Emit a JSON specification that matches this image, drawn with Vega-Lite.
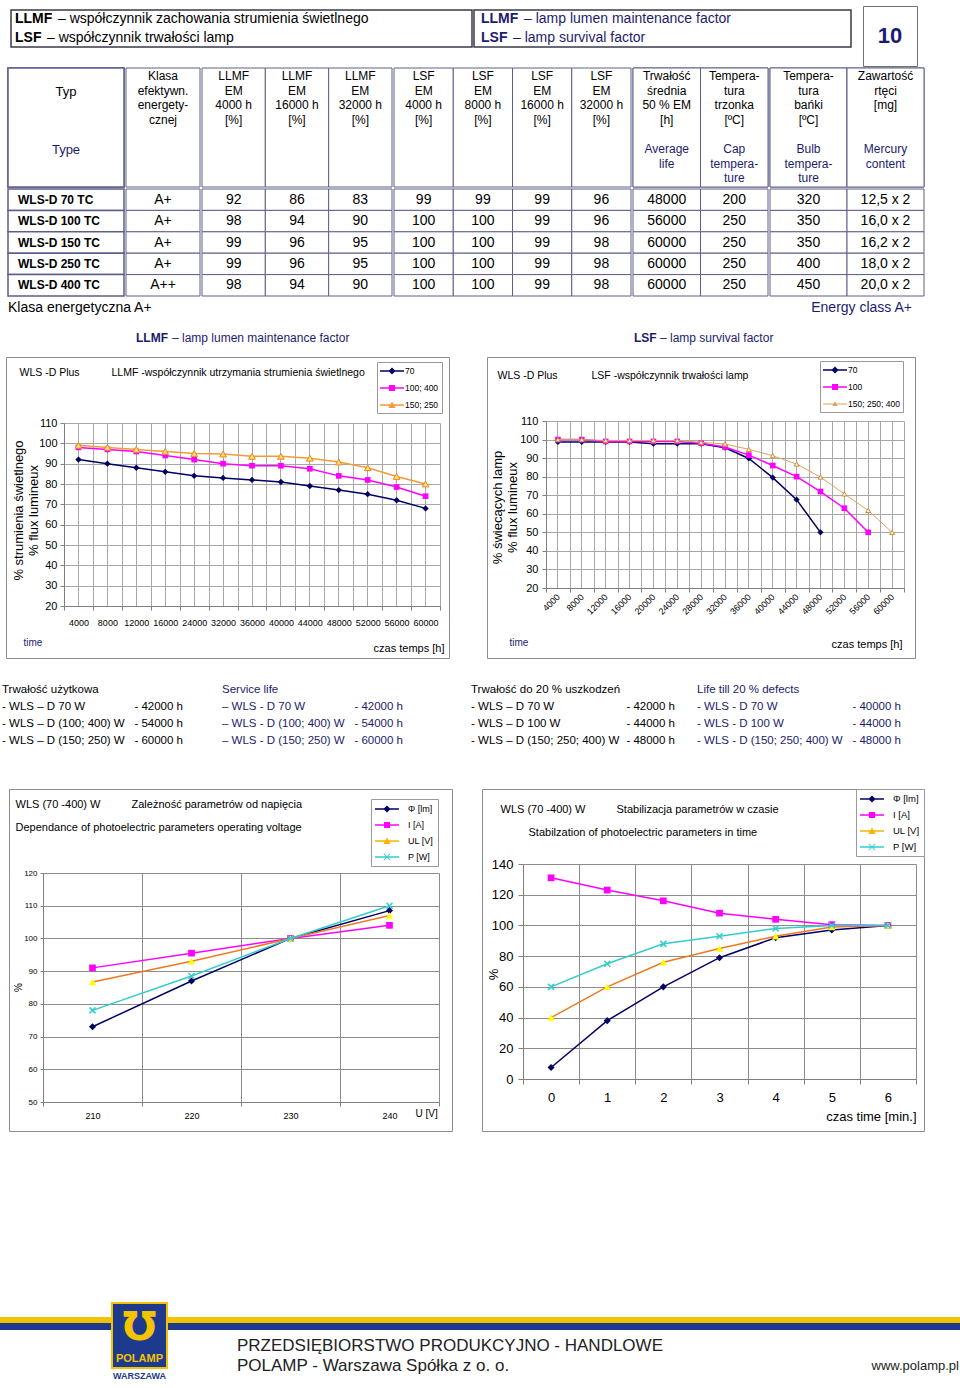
{
"$schema":"https://vega.github.io/schema/vega-lite/v6.json",
"padding":0,
"background":"#ffffff",
"spacing":0,
"resolve":{"scale":{"fill":"independent","shape":"independent"},"legend":{"fill":"independent","shape":"independent"}},
"config":{
 "view":{"stroke":null},
 "font":"Liberation Sans",
 "text":{"font":"Liberation Sans","fontSize":12,"color":"#000000"},
 "axis":{"labelFont":"Liberation Sans","titleFont":"Liberation Sans","titleFontWeight":"normal","labelColor":"#000000","titleColor":"#000000","domainColor":"#7f7f7f","tickColor":"#7f7f7f","gridColor":"#a8a8a8","gridWidth":1},
 "legend":{"labelFont":"Liberation Sans","labelColor":"#000000"}
},
"datasets":{
 "hdr":[
  {"lang":"pl","line":1,"k":"b","text":"LLMF"},
  {"lang":"pl","line":1,"k":"n","text":"– współczynnik zachowania strumienia świetlnego"},
  {"lang":"pl","line":2,"k":"b","text":"LSF"},
  {"lang":"pl","line":2,"k":"n","text":"– współczynnik trwałości lamp"},
  {"lang":"en","line":1,"k":"b","text":"LLMF"},
  {"lang":"en","line":1,"k":"n","text":"– lamp lumen maintenance factor"},
  {"lang":"en","line":2,"k":"b","text":"LSF"},
  {"lang":"en","line":2,"k":"n","text":"– lamp survival factor"}
 ],
 "page":[{"text":"10"}],
 "thead":[
  {"col":"typ","part":"pl","text":"\nTyp"},
  {"col":"typ","part":"en","text":"Type"},
  {"col":"klasa","part":"pl","text":"Klasa\nefektywn.\nenergety-\ncznej"},
  {"col":"llmf4000","part":"pl","text":"LLMF\nEM\n4000 h\n\n[%]"},
  {"col":"llmf16000","part":"pl","text":"LLMF\nEM\n16000  h\n\n[%]"},
  {"col":"llmf32000","part":"pl","text":"LLMF\nEM\n32000  h\n\n[%]"},
  {"col":"lsf4000","part":"pl","text":"LSF\nEM\n4000 h\n\n[%]"},
  {"col":"lsf8000","part":"pl","text":"LSF\nEM\n8000 h\n\n[%]"},
  {"col":"lsf16000","part":"pl","text":"LSF\nEM\n16000 h\n\n[%]"},
  {"col":"lsf32000","part":"pl","text":"LSF\nEM\n32000 h\n\n[%]"},
  {"col":"life","part":"pl","text":"Trwałość\nśrednia\n50 % EM\n\n[h]"},
  {"col":"life","part":"en","text":"Average\nlife"},
  {"col":"tcap","part":"pl","text":"Tempera-\ntura\ntrzonka\n\n[ºC]"},
  {"col":"tcap","part":"en","text":"Cap\ntempera-\nture"},
  {"col":"tbulb","part":"pl","text":"Tempera-\ntura\nbańki\n\n[ºC]"},
  {"col":"tbulb","part":"en","text":"Bulb\ntempera-\nture"},
  {"col":"hg","part":"pl","text":"Zawartość\nrtęci\n\n\n[mg]"},
  {"col":"hg","part":"en","text":"Mercury\ncontent"}
 ],
 "lamps":[
  {"typ":"WLS-D 70 TC","klasa":"A+","llmf4000":92,"llmf16000":86,"llmf32000":83,"lsf4000":99,"lsf8000":99,"lsf16000":99,"lsf32000":96,"life":48000,"tcap":200,"tbulb":320,"hg":"12,5 x 2"},
  {"typ":"WLS-D 100 TC","klasa":"A+","llmf4000":98,"llmf16000":94,"llmf32000":90,"lsf4000":100,"lsf8000":100,"lsf16000":99,"lsf32000":96,"life":56000,"tcap":250,"tbulb":350,"hg":"16,0 x 2"},
  {"typ":"WLS-D 150 TC","klasa":"A+","llmf4000":99,"llmf16000":96,"llmf32000":95,"lsf4000":100,"lsf8000":100,"lsf16000":99,"lsf32000":98,"life":60000,"tcap":250,"tbulb":350,"hg":"16,2 x 2"},
  {"typ":"WLS-D 250 TC","klasa":"A+","llmf4000":99,"llmf16000":96,"llmf32000":95,"lsf4000":100,"lsf8000":100,"lsf16000":99,"lsf32000":98,"life":60000,"tcap":250,"tbulb":400,"hg":"18,0 x 2"},
  {"typ":"WLS-D 400 TC","klasa":"A++","llmf4000":98,"llmf16000":94,"llmf32000":90,"lsf4000":100,"lsf8000":100,"lsf16000":99,"lsf32000":98,"life":60000,"tcap":250,"tbulb":450,"hg":"20,0 x 2"}
 ],
 "cls":[{"side":"pl","text":"Klasa energetyczna A+"},{"side":"en","text":"Energy class A+"}],
 "caps":[
  {"id":"llmf","k":"b","text":"LLMF"},{"id":"llmf","k":"n","text":"– lamp lumen maintenance factor"},
  {"id":"lsf","k":"b","text":"LSF"},{"id":"lsf","k":"n","text":"– lamp survival factor"}
 ],
 "llmf":[
  {"t":4000,"s":"70","v":92},{"t":8000,"s":"70","v":90},{"t":12000,"s":"70","v":88},{"t":16000,"s":"70","v":86},{"t":24000,"s":"70","v":84},{"t":32000,"s":"70","v":83},{"t":36000,"s":"70","v":82},{"t":40000,"s":"70","v":81},{"t":44000,"s":"70","v":79},{"t":48000,"s":"70","v":77},{"t":52000,"s":"70","v":75},{"t":56000,"s":"70","v":72},{"t":60000,"s":"70","v":68},
  {"t":4000,"s":"100; 400","v":98},{"t":8000,"s":"100; 400","v":97},{"t":12000,"s":"100; 400","v":96},{"t":16000,"s":"100; 400","v":94},{"t":24000,"s":"100; 400","v":92},{"t":32000,"s":"100; 400","v":90},{"t":36000,"s":"100; 400","v":89},{"t":40000,"s":"100; 400","v":89},{"t":44000,"s":"100; 400","v":87.5},{"t":48000,"s":"100; 400","v":84},{"t":52000,"s":"100; 400","v":82},{"t":56000,"s":"100; 400","v":78.5},{"t":60000,"s":"100; 400","v":74},
  {"t":4000,"s":"150; 250","v":99},{"t":8000,"s":"150; 250","v":98},{"t":12000,"s":"150; 250","v":97},{"t":16000,"s":"150; 250","v":96},{"t":24000,"s":"150; 250","v":95},{"t":32000,"s":"150; 250","v":94.7},{"t":36000,"s":"150; 250","v":93.6},{"t":40000,"s":"150; 250","v":93.6},{"t":44000,"s":"150; 250","v":92.7},{"t":48000,"s":"150; 250","v":90.8},{"t":52000,"s":"150; 250","v":88},{"t":56000,"s":"150; 250","v":83.7},{"t":60000,"s":"150; 250","v":80}
 ],
 "lsf":[
  {"t":4000,"s":"70","v":98.7},{"t":8000,"s":"70","v":98.7},{"t":12000,"s":"70","v":98.7},{"t":16000,"s":"70","v":98.7},{"t":20000,"s":"70","v":97.8},{"t":24000,"s":"70","v":97.8},{"t":28000,"s":"70","v":97.8},{"t":32000,"s":"70","v":95.6},{"t":36000,"s":"70","v":89.8},{"t":40000,"s":"70","v":79.5},{"t":44000,"s":"70","v":67.6},{"t":48000,"s":"70","v":50},
  {"t":4000,"s":"100","v":100},{"t":8000,"s":"100","v":100},{"t":12000,"s":"100","v":99},{"t":16000,"s":"100","v":99},{"t":20000,"s":"100","v":99},{"t":24000,"s":"100","v":99},{"t":28000,"s":"100","v":98},{"t":32000,"s":"100","v":96},{"t":36000,"s":"100","v":91.6},{"t":40000,"s":"100","v":86},{"t":44000,"s":"100","v":80},{"t":48000,"s":"100","v":72},{"t":52000,"s":"100","v":63},{"t":56000,"s":"100","v":50},
  {"t":4000,"s":"150; 250; 400","v":100},{"t":8000,"s":"150; 250; 400","v":100},{"t":12000,"s":"150; 250; 400","v":99.5},{"t":16000,"s":"150; 250; 400","v":99.5},{"t":20000,"s":"150; 250; 400","v":99.5},{"t":24000,"s":"150; 250; 400","v":99.5},{"t":28000,"s":"150; 250; 400","v":98.5},{"t":32000,"s":"150; 250; 400","v":97.6},{"t":36000,"s":"150; 250; 400","v":94.7},{"t":40000,"s":"150; 250; 400","v":91.3},{"t":44000,"s":"150; 250; 400","v":86.8},{"t":48000,"s":"150; 250; 400","v":79.8},{"t":52000,"s":"150; 250; 400","v":70.7},{"t":56000,"s":"150; 250; 400","v":61.8},{"t":60000,"s":"150; 250; 400","v":50}
 ],
 "volt":[
  {"t":210,"s":"Φ [lm]","v":73},{"t":220,"s":"Φ [lm]","v":87},{"t":230,"s":"Φ [lm]","v":100},{"t":240,"s":"Φ [lm]","v":108.5},
  {"t":210,"s":"I [A]","v":91},{"t":220,"s":"I [A]","v":95.5},{"t":230,"s":"I [A]","v":100},{"t":240,"s":"I [A]","v":104},
  {"t":210,"s":"UL [V]","v":86.7},{"t":220,"s":"UL [V]","v":93},{"t":230,"s":"UL [V]","v":100},{"t":240,"s":"UL [V]","v":107},
  {"t":210,"s":"P [W]","v":78},{"t":220,"s":"P [W]","v":88.5},{"t":230,"s":"P [W]","v":100},{"t":240,"s":"P [W]","v":110}
 ],
 "stab":[
  {"t":0,"s":"Φ [lm]","v":7.5},{"t":1,"s":"Φ [lm]","v":38},{"t":2,"s":"Φ [lm]","v":60},{"t":3,"s":"Φ [lm]","v":79},{"t":4,"s":"Φ [lm]","v":92},{"t":5,"s":"Φ [lm]","v":97},{"t":6,"s":"Φ [lm]","v":100},
  {"t":0,"s":"I [A]","v":131},{"t":1,"s":"I [A]","v":123},{"t":2,"s":"I [A]","v":116},{"t":3,"s":"I [A]","v":108},{"t":4,"s":"I [A]","v":104},{"t":5,"s":"I [A]","v":100.5},{"t":6,"s":"I [A]","v":100},
  {"t":0,"s":"UL [V]","v":40},{"t":1,"s":"UL [V]","v":60},{"t":2,"s":"UL [V]","v":76},{"t":3,"s":"UL [V]","v":85},{"t":4,"s":"UL [V]","v":93},{"t":5,"s":"UL [V]","v":99},{"t":6,"s":"UL [V]","v":100},
  {"t":0,"s":"P [W]","v":60},{"t":1,"s":"P [W]","v":75},{"t":2,"s":"P [W]","v":88},{"t":3,"s":"P [W]","v":93},{"t":4,"s":"P [W]","v":98},{"t":5,"s":"P [W]","v":100},{"t":6,"s":"P [W]","v":100}
 ],
 "notes":[
  {"b":1,"line":0,"part":"l","text":"Trwałość użytkowa"},
  {"b":1,"line":1,"part":"l","text":"- WLS – D 70 W"},{"b":1,"line":1,"part":"v","text":"- 42000 h"},
  {"b":1,"line":2,"part":"l","text":"- WLS – D (100; 400) W"},{"b":1,"line":2,"part":"v","text":"- 54000 h"},
  {"b":1,"line":3,"part":"l","text":"- WLS – D (150; 250) W"},{"b":1,"line":3,"part":"v","text":"- 60000 h"},
  {"b":2,"line":0,"part":"l","text":"Service life"},
  {"b":2,"line":1,"part":"l","text":"– WLS - D 70 W"},{"b":2,"line":1,"part":"v","text":"- 42000 h"},
  {"b":2,"line":2,"part":"l","text":"– WLS - D (100; 400) W"},{"b":2,"line":2,"part":"v","text":"- 54000 h"},
  {"b":2,"line":3,"part":"l","text":"– WLS - D (150; 250) W"},{"b":2,"line":3,"part":"v","text":"- 60000 h"},
  {"b":3,"line":0,"part":"l","text":"Trwałość do 20 % uszkodzeń"},
  {"b":3,"line":1,"part":"l","text":"- WLS – D 70 W"},{"b":3,"line":1,"part":"v","text":"- 42000 h"},
  {"b":3,"line":2,"part":"l","text":"- WLS – D 100 W"},{"b":3,"line":2,"part":"v","text":"- 44000 h"},
  {"b":3,"line":3,"part":"l","text":"- WLS – D (150; 250; 400) W"},{"b":3,"line":3,"part":"v","text":"- 48000 h"},
  {"b":4,"line":0,"part":"l","text":"Life till 20 % defects"},
  {"b":4,"line":1,"part":"l","text":"- WLS - D 70 W"},{"b":4,"line":1,"part":"v","text":"- 40000 h"},
  {"b":4,"line":2,"part":"l","text":"- WLS - D 100 W"},{"b":4,"line":2,"part":"v","text":"- 44000 h"},
  {"b":4,"line":3,"part":"l","text":"- WLS - D (150; 250; 400) W"},{"b":4,"line":3,"part":"v","text":"- 48000 h"}
 ],
 "foot":[
  {"side":"l","line":1,"text":"PRZEDSIĘBIORSTWO PRODUKCYJNO - HANDLOWE"},
  {"side":"l","line":2,"text":"POLAMP - Warszawa Spółka z o. o."},
  {"side":"r","line":2,"text":"www.polamp.pl"}
 ],
 "logo":[{"part":"sym","text":"℧"},{"part":"name","text":"POLAMP"},{"part":"city","text":"WARSZAWA"}]
},
"vconcat":[
 {"hconcat":[
   {"width":10,"height":10,"data":{"values":[{}]},"mark":{"type":"rect","opacity":0}},
   {"vconcat":[
     {"width":838,"height":9,"data":{"values":[{}]},"mark":{"type":"rect","opacity":0}},
     {"hconcat":[
       {"width":461,"height":37,"view":{"stroke":"#3a3a4a","strokeWidth":1.5},
        "data":{"name":"hdr"},"transform":[{"filter":{"field":"lang","equal":"pl"}}],
        "encoding":{
          "x":{"datum":"c","type":"nominal","bandPosition":0,"scale":{"type":"band","paddingInner":0,"paddingOuter":0},"axis":null},
          "y":{"field":"line","type":"ordinal","bandPosition":0.5,"scale":{"type":"band","domain":[1,2],"paddingInner":0,"paddingOuter":0},"axis":null},
          "text":{"field":"text"}},
        "layer":[
          {"transform":[{"filter":{"field":"k","equal":"b"}}],"mark":{"type":"text","align":"left","dx":4,"fontSize":14,"fontWeight":"bold","color":"#000000"}},
          {"transform":[{"filter":"datum.k == 'n' && datum.line == 1"}],"mark":{"type":"text","align":"left","dx":47,"fontSize":14,"color":"#000000"}},
          {"transform":[{"filter":"datum.k == 'n' && datum.line == 2"}],"mark":{"type":"text","align":"left","dx":36,"fontSize":14,"color":"#000000"}}
        ]},
       {"width":377,"height":37,"view":{"stroke":"#3a3a4a","strokeWidth":1.5},
        "data":{"name":"hdr"},"transform":[{"filter":{"field":"lang","equal":"en"}}],
        "encoding":{
          "x":{"datum":"c","type":"nominal","bandPosition":0,"scale":{"type":"band","paddingInner":0,"paddingOuter":0},"axis":null},
          "y":{"field":"line","type":"ordinal","bandPosition":0.5,"scale":{"type":"band","domain":[1,2],"paddingInner":0,"paddingOuter":0},"axis":null},
          "text":{"field":"text"}},
        "layer":[
          {"transform":[{"filter":{"field":"k","equal":"b"}}],"mark":{"type":"text","align":"left","dx":7,"fontSize":14,"fontWeight":"bold","color":"#1c1c6e"}},
          {"transform":[{"filter":"datum.k == 'n' && datum.line == 1"}],"mark":{"type":"text","align":"left","dx":50,"fontSize":14,"color":"#1c1c6e"}},
          {"transform":[{"filter":"datum.k == 'n' && datum.line == 2"}],"mark":{"type":"text","align":"left","dx":39,"fontSize":14,"color":"#1c1c6e"}}
        ]}
     ],"spacing":0}
   ],"spacing":0},
   {"width":10,"height":10,"data":{"values":[{}]},"mark":{"type":"rect","opacity":0}},
   {"vconcat":[
     {"width":54,"height":5,"data":{"values":[{}]},"mark":{"type":"rect","opacity":0}},
     {"width":54,"height":60,"view":{"stroke":"#707070","strokeWidth":1},"data":{"name":"page"},
      "mark":{"type":"text","fontSize":22,"fontWeight":"bold","color":"#1c1c6e"},
      "encoding":{"text":{"field":"text"}}}
   ],"spacing":0}
 ],"spacing":0},
 {"hconcat":[
   {"width":7,"height":10,"data":{"values":[{}]},"mark":{"type":"rect","opacity":0}},
   {"vconcat":[
     {"width":116,"height":119,"data":{"name":"thead"},"transform":[{"filter":{"field":"col","equal":"typ"}}],
      "layer":[
        {"mark":{"type":"rect","fill":"#ffffff","stroke":"#5e5e8a","strokeWidth":1.5}},
        {"mark":{"type":"text","baseline":"top","fontSize":13,"lineHeight":14.5,"lineBreak":"\n"},
         "encoding":{"y":{"field":"part","type":"nominal","scale":{"type":"point","domain":["pl","en"],"range":[3,76],"padding":0},"axis":null},
           "text":{"field":"text"},
           "color":{"field":"part","type":"nominal","scale":{"domain":["pl","en"],"range":["#000000","#1c1c6e"]},"legend":null}}}
      ]},
     {"width":116,"height":107,"data":{"name":"lamps"},
      "encoding":{"y":{"field":"typ","type":"nominal","scale":{"type":"band","domain":["WLS-D 70 TC","WLS-D 100 TC","WLS-D 150 TC","WLS-D 250 TC","WLS-D 400 TC"],"paddingInner":0,"paddingOuter":0},"axis":null}},
      "layer":[
        {"mark":{"type":"rect","fill":"#ffffff","stroke":"#5e5e8a","strokeWidth":1.5}},
        {"mark":{"type":"text","align":"left","dx":10,"fontSize":12,"fontWeight":"bold"},
         "encoding":{"x":{"datum":"c","type":"nominal","bandPosition":0,"scale":{"type":"band","paddingInner":0,"paddingOuter":0},"axis":null},
           "y":{"field":"typ","type":"nominal","bandPosition":0.5},
           "text":{"field":"typ"}}}
      ]}
   ],"spacing":0},
   {"vconcat":[
     {"width":74,"height":119,"data":{"name":"thead"},"transform":[{"filter":{"field":"col","oneOf":["klasa"]}}],
      "layer":[
        {"mark":{"type":"rect","fill":"#ffffff","stroke":"#5e5e8a","strokeWidth":1},"encoding":{"x":{"field":"col","type":"nominal","scale":{"type":"band","domain":["klasa"],"paddingInner":0,"paddingOuter":0},"axis":null}}},
        {"mark":{"type":"text","baseline":"top","fontSize":12,"lineHeight":14.5,"lineBreak":"\n"},
         "encoding":{"x":{"field":"col","type":"nominal","bandPosition":0.5},
           "y":{"field":"part","type":"nominal","scale":{"type":"point","domain":["pl","en"],"range":[3,76],"padding":0},"axis":null},
           "text":{"field":"text"},
           "color":{"field":"part","type":"nominal","scale":{"domain":["pl","en"],"range":["#000000","#1c1c6e"]},"legend":null}}}
      ]},
     {"width":74,"height":107,"data":{"name":"lamps"},"transform":[{"fold":["klasa"],"as":["col","val"]}],
      "layer":[
        {"mark":{"type":"rect","fill":"#ffffff","stroke":"#5e5e8a","strokeWidth":1},
         "encoding":{"x":{"field":"col","type":"nominal","scale":{"type":"band","domain":["klasa"],"paddingInner":0,"paddingOuter":0},"axis":null},
           "y":{"field":"typ","type":"nominal","scale":{"type":"band","domain":["WLS-D 70 TC","WLS-D 100 TC","WLS-D 150 TC","WLS-D 250 TC","WLS-D 400 TC"],"paddingInner":0,"paddingOuter":0},"axis":null}}},
        {"mark":{"type":"text","fontSize":14},
         "encoding":{"x":{"field":"col","type":"nominal","bandPosition":0.5},"y":{"field":"typ","type":"nominal","bandPosition":0.5},"text":{"field":"val","type":"nominal"}}}
      ]}
   ],"spacing":0},
   {"vconcat":[
     {"width":190,"height":119,"data":{"name":"thead"},"transform":[{"filter":{"field":"col","oneOf":["llmf4000","llmf16000","llmf32000"]}}],
      "layer":[
        {"mark":{"type":"rect","fill":"#ffffff","stroke":"#5e5e8a","strokeWidth":1},"encoding":{"x":{"field":"col","type":"nominal","scale":{"type":"band","domain":["llmf4000","llmf16000","llmf32000"],"paddingInner":0,"paddingOuter":0},"axis":null}}},
        {"mark":{"type":"text","baseline":"top","fontSize":12,"lineHeight":14.5,"lineBreak":"\n"},
         "encoding":{"x":{"field":"col","type":"nominal","bandPosition":0.5},
           "y":{"field":"part","type":"nominal","scale":{"type":"point","domain":["pl","en"],"range":[3,76],"padding":0},"axis":null},
           "text":{"field":"text"},
           "color":{"field":"part","type":"nominal","scale":{"domain":["pl","en"],"range":["#000000","#1c1c6e"]},"legend":null}}}
      ]},
     {"width":190,"height":107,"data":{"name":"lamps"},"transform":[{"fold":["llmf4000","llmf16000","llmf32000"],"as":["col","val"]}],
      "layer":[
        {"mark":{"type":"rect","fill":"#ffffff","stroke":"#5e5e8a","strokeWidth":1},
         "encoding":{"x":{"field":"col","type":"nominal","scale":{"type":"band","domain":["llmf4000","llmf16000","llmf32000"],"paddingInner":0,"paddingOuter":0},"axis":null},
           "y":{"field":"typ","type":"nominal","scale":{"type":"band","domain":["WLS-D 70 TC","WLS-D 100 TC","WLS-D 150 TC","WLS-D 250 TC","WLS-D 400 TC"],"paddingInner":0,"paddingOuter":0},"axis":null}}},
        {"mark":{"type":"text","fontSize":14},
         "encoding":{"x":{"field":"col","type":"nominal","bandPosition":0.5},"y":{"field":"typ","type":"nominal","bandPosition":0.5},"text":{"field":"val","type":"nominal"}}}
      ]}
   ],"spacing":0},
   {"vconcat":[
     {"width":237,"height":119,"data":{"name":"thead"},"transform":[{"filter":{"field":"col","oneOf":["lsf4000","lsf8000","lsf16000","lsf32000"]}}],
      "layer":[
        {"mark":{"type":"rect","fill":"#ffffff","stroke":"#5e5e8a","strokeWidth":1},"encoding":{"x":{"field":"col","type":"nominal","scale":{"type":"band","domain":["lsf4000","lsf8000","lsf16000","lsf32000"],"paddingInner":0,"paddingOuter":0},"axis":null}}},
        {"mark":{"type":"text","baseline":"top","fontSize":12,"lineHeight":14.5,"lineBreak":"\n"},
         "encoding":{"x":{"field":"col","type":"nominal","bandPosition":0.5},
           "y":{"field":"part","type":"nominal","scale":{"type":"point","domain":["pl","en"],"range":[3,76],"padding":0},"axis":null},
           "text":{"field":"text"},
           "color":{"field":"part","type":"nominal","scale":{"domain":["pl","en"],"range":["#000000","#1c1c6e"]},"legend":null}}}
      ]},
     {"width":237,"height":107,"data":{"name":"lamps"},"transform":[{"fold":["lsf4000","lsf8000","lsf16000","lsf32000"],"as":["col","val"]}],
      "layer":[
        {"mark":{"type":"rect","fill":"#ffffff","stroke":"#5e5e8a","strokeWidth":1},
         "encoding":{"x":{"field":"col","type":"nominal","scale":{"type":"band","domain":["lsf4000","lsf8000","lsf16000","lsf32000"],"paddingInner":0,"paddingOuter":0},"axis":null},
           "y":{"field":"typ","type":"nominal","scale":{"type":"band","domain":["WLS-D 70 TC","WLS-D 100 TC","WLS-D 150 TC","WLS-D 250 TC","WLS-D 400 TC"],"paddingInner":0,"paddingOuter":0},"axis":null}}},
        {"mark":{"type":"text","fontSize":14},
         "encoding":{"x":{"field":"col","type":"nominal","bandPosition":0.5},"y":{"field":"typ","type":"nominal","bandPosition":0.5},"text":{"field":"val","type":"nominal"}}}
      ]}
   ],"spacing":0},
   {"vconcat":[
     {"width":135,"height":119,"data":{"name":"thead"},"transform":[{"filter":{"field":"col","oneOf":["life","tcap"]}}],
      "layer":[
        {"mark":{"type":"rect","fill":"#ffffff","stroke":"#5e5e8a","strokeWidth":1},"encoding":{"x":{"field":"col","type":"nominal","scale":{"type":"band","domain":["life","tcap"],"paddingInner":0,"paddingOuter":0},"axis":null}}},
        {"mark":{"type":"text","baseline":"top","fontSize":12,"lineHeight":14.5,"lineBreak":"\n"},
         "encoding":{"x":{"field":"col","type":"nominal","bandPosition":0.5},
           "y":{"field":"part","type":"nominal","scale":{"type":"point","domain":["pl","en"],"range":[3,76],"padding":0},"axis":null},
           "text":{"field":"text"},
           "color":{"field":"part","type":"nominal","scale":{"domain":["pl","en"],"range":["#000000","#1c1c6e"]},"legend":null}}}
      ]},
     {"width":135,"height":107,"data":{"name":"lamps"},"transform":[{"fold":["life","tcap"],"as":["col","val"]}],
      "layer":[
        {"mark":{"type":"rect","fill":"#ffffff","stroke":"#5e5e8a","strokeWidth":1},
         "encoding":{"x":{"field":"col","type":"nominal","scale":{"type":"band","domain":["life","tcap"],"paddingInner":0,"paddingOuter":0},"axis":null},
           "y":{"field":"typ","type":"nominal","scale":{"type":"band","domain":["WLS-D 70 TC","WLS-D 100 TC","WLS-D 150 TC","WLS-D 250 TC","WLS-D 400 TC"],"paddingInner":0,"paddingOuter":0},"axis":null}}},
        {"mark":{"type":"text","fontSize":14},
         "encoding":{"x":{"field":"col","type":"nominal","bandPosition":0.5},"y":{"field":"typ","type":"nominal","bandPosition":0.5},"text":{"field":"val","type":"nominal"}}}
      ]}
   ],"spacing":0},
   {"vconcat":[
     {"width":154,"height":119,"data":{"name":"thead"},"transform":[{"filter":{"field":"col","oneOf":["tbulb","hg"]}}],
      "layer":[
        {"mark":{"type":"rect","fill":"#ffffff","stroke":"#5e5e8a","strokeWidth":1},"encoding":{"x":{"field":"col","type":"nominal","scale":{"type":"band","domain":["tbulb","hg"],"paddingInner":0,"paddingOuter":0},"axis":null}}},
        {"mark":{"type":"text","baseline":"top","fontSize":12,"lineHeight":14.5,"lineBreak":"\n"},
         "encoding":{"x":{"field":"col","type":"nominal","bandPosition":0.5},
           "y":{"field":"part","type":"nominal","scale":{"type":"point","domain":["pl","en"],"range":[3,76],"padding":0},"axis":null},
           "text":{"field":"text"},
           "color":{"field":"part","type":"nominal","scale":{"domain":["pl","en"],"range":["#000000","#1c1c6e"]},"legend":null}}}
      ]},
     {"width":154,"height":107,"data":{"name":"lamps"},"transform":[{"fold":["tbulb","hg"],"as":["col","val"]}],
      "layer":[
        {"mark":{"type":"rect","fill":"#ffffff","stroke":"#5e5e8a","strokeWidth":1},
         "encoding":{"x":{"field":"col","type":"nominal","scale":{"type":"band","domain":["tbulb","hg"],"paddingInner":0,"paddingOuter":0},"axis":null},
           "y":{"field":"typ","type":"nominal","scale":{"type":"band","domain":["WLS-D 70 TC","WLS-D 100 TC","WLS-D 150 TC","WLS-D 250 TC","WLS-D 400 TC"],"paddingInner":0,"paddingOuter":0},"axis":null}}},
        {"mark":{"type":"text","fontSize":14},
         "encoding":{"x":{"field":"col","type":"nominal","bandPosition":0.5},"y":{"field":"typ","type":"nominal","bandPosition":0.5},"text":{"field":"val","type":"nominal"}}}
      ]}
   ],"spacing":0}
 ],"spacing":0},
 {"hconcat":[
   {"width":8,"height":22,"data":{"values":[{}]},"mark":{"type":"rect","opacity":0}},
   {"width":904,"height":22,"data":{"name":"cls"},
    "encoding":{"text":{"field":"text"}},
    "layer":[
      {"transform":[{"filter":{"field":"side","equal":"pl"}}],"mark":{"type":"text","align":"left","fontSize":14,"color":"#000000"},
       "encoding":{"x":{"datum":"c","type":"nominal","bandPosition":0,"scale":{"type":"band","paddingInner":0,"paddingOuter":0},"axis":null}}},
      {"transform":[{"filter":{"field":"side","equal":"en"}}],"mark":{"type":"text","align":"right","fontSize":14,"color":"#1c1c6e"},
       "encoding":{"x":{"datum":"c","type":"nominal","bandPosition":1,"axis":null}}}
    ]}
 ],"spacing":0},
 {"hconcat":[
   {"width":136,"height":37,"data":{"values":[{}]},"mark":{"type":"rect","opacity":0}},
   {"width":498,"height":37,"data":{"name":"caps"},"transform":[{"filter":{"field":"id","equal":"llmf"}}],
    "encoding":{"x":{"datum":"c","type":"nominal","bandPosition":0,"scale":{"type":"band","paddingInner":0,"paddingOuter":0},"axis":null},"text":{"field":"text"}},
    "layer":[
      {"transform":[{"filter":{"field":"k","equal":"b"}}],"mark":{"type":"text","align":"left","fontSize":12,"fontWeight":"bold","color":"#1c1c6e"}},
      {"transform":[{"filter":{"field":"k","equal":"n"}}],"mark":{"type":"text","align":"left","dx":36,"fontSize":12,"color":"#1c1c6e"}}
    ]},
   {"width":326,"height":37,"data":{"name":"caps"},"transform":[{"filter":{"field":"id","equal":"lsf"}}],
    "encoding":{"x":{"datum":"c","type":"nominal","bandPosition":0,"scale":{"type":"band","paddingInner":0,"paddingOuter":0},"axis":null},"text":{"field":"text"}},
    "layer":[
      {"transform":[{"filter":{"field":"k","equal":"b"}}],"mark":{"type":"text","align":"left","fontSize":12,"fontWeight":"bold","color":"#1c1c6e"}},
      {"transform":[{"filter":{"field":"k","equal":"n"}}],"mark":{"type":"text","align":"left","dx":26,"fontSize":12,"color":"#1c1c6e"}}
    ]}
 ],"spacing":0},
 {"hconcat":[
   {"width":5,"height":301,"data":{"values":[{}]},"mark":{"type":"rect","opacity":0}},
   {"width":443,"height":301,"view":{"stroke":"#8c8c8c","strokeWidth":1},"data":{"name":"llmf"},
    "resolve":{"axis":{"x":"independent","y":"independent"}},
    "layer":[
      {"transform":[{"filter":{"field":"s","equal":"70"}}],
       "mark":{"type":"line","color":"#000066","strokeWidth":1.5,"point":{"shape":"diamond","filled":true,"size":40,"color":"#000066","opacity":1}},
       "encoding":{
         "x":{"field":"t","type":"ordinal","bandPosition":0.5,
           "scale":{"type":"band","domain":[4000,8000,12000,16000,24000,32000,36000,40000,44000,48000,52000,56000,60000],"range":[58,434],"paddingInner":0,"paddingOuter":0},
           "axis":{"orient":"bottom","offset":-52,"grid":false,"tickBand":"extent","tickSize":4,"labelAngle":0,"labelFontSize":9,"labelPadding":8,"labelOverlap":false,
             "title":"czas temps [h]","titleX":438,"titleY":42,"titleAlign":"right","titleBaseline":"middle","titleFontSize":11}},
         "y":{"field":"v","type":"quantitative","scale":{"domain":[20,110],"range":[249,66],"nice":false,"zero":false},
           "axis":{"orient":"left","offset":-58,"values":[20,30,40,50,60,70,80,90,100,110],"grid":true,"tickSize":4,"labelFontSize":11,"labelPadding":3,
             "title":["% strumienia świetlnego","% flux lumineux"],"titleAngle":-90,"titleX":-46,"titleY":153,"titleAlign":"center","titleBaseline":"middle","titleFontSize":13,"titleLineHeight":15}}
       }},
      {"transform":[{"filter":{"field":"s","equal":"100; 400"}}],
       "mark":{"type":"line","color":"#ff00ff","strokeWidth":1.5,"point":{"shape":"square","filled":true,"size":32,"color":"#ff00ff","opacity":1}},
       "encoding":{
         "x":{"field":"t","type":"ordinal","bandPosition":0.5,"axis":{"orient":"top","offset":0,"grid":true,"tickBand":"extent","domain":false,"ticks":false,"labels":false,
           "title":"time","titleX":17,"titleY":285,"titleAlign":"left","titleBaseline":"middle","titleColor":"#1c1c6e","titleFontSize":10}},
         "y":{"field":"v","type":"quantitative","axis":{"orient":"left","offset":0,"grid":false,"domain":false,"ticks":false,"labels":false,
           "title":"WLS -D Plus","titleAngle":0,"titleX":13,"titleY":15,"titleAlign":"left","titleBaseline":"middle","titleFontSize":10.5}}
       }},
      {"transform":[{"filter":{"field":"s","equal":"150; 250"}}],
       "mark":{"type":"line","color":"#f39a3b","strokeWidth":1.5,"point":{"shape":"triangle-up","filled":true,"size":45,"fill":"#ffe066","stroke":"#e8862a","strokeWidth":1,"opacity":1}},
       "encoding":{
         "x":{"field":"t","type":"ordinal","bandPosition":0.5,"axis":{"orient":"top","offset":0,"grid":true,"domain":false,"ticks":false,"labels":false,"title":null}},
         "y":{"field":"v","type":"quantitative","axis":{"orient":"left","offset":0,"grid":false,"domain":false,"ticks":false,"labels":false,
           "title":"LLMF -współczynnik utrzymania strumienia  świetlnego","titleAngle":0,"titleX":105,"titleY":15,"titleAlign":"left","titleBaseline":"middle","titleFontSize":10.5}}
       }},
      {"transform":[{"filter":"false"}],
       "mark":{"type":"point","filled":true,"opacity":1},
       "encoding":{
         "fill":{"field":"s","type":"nominal","scale":{"domain":["70","100; 400","150; 250"],"range":["#000066","#ff00ff","#f39a3b"]},
           "legend":{"orient":"none","legendX":371,"legendY":5,"title":null,"direction":"vertical","fillColor":"#ffffff","strokeColor":"#9a9a9a","padding":3,"rowPadding":6,"symbolSize":144,"symbolStrokeWidth":0,"symbolOffset":6,"labelOffset":7,"labelFontSize":8.5}},
         "shape":{"field":"s","type":"nominal","scale":{"domain":["70","100; 400","150; 250"],"range":["M-2,-0.12H2V0.12H-2ZM0,-0.6L0.6,0L0,0.6L-0.6,0Z","M-2,-0.12H2V0.12H-2ZM-0.5,-0.5H0.5V0.5H-0.5Z","M-2,-0.12H2V0.12H-2ZM0,-0.6L0.6,0.5H-0.6Z"]},
           "legend":{"orient":"none","legendX":371,"legendY":5,"title":null,"direction":"vertical","fillColor":"#ffffff","strokeColor":"#9a9a9a","padding":3,"rowPadding":6,"symbolSize":144,"symbolStrokeWidth":0,"symbolOffset":6,"labelOffset":7,"labelFontSize":8.5}}
       }}
    ]},
   {"width":33,"height":301,"data":{"values":[{}]},"mark":{"type":"rect","opacity":0}},
   {"width":428,"height":301,"view":{"stroke":"#8c8c8c","strokeWidth":1},"data":{"name":"lsf"},
    "resolve":{"axis":{"x":"independent","y":"independent"}},
    "layer":[
      {"transform":[{"filter":{"field":"s","equal":"70"}}],
       "mark":{"type":"line","color":"#000066","strokeWidth":1.5,"point":{"shape":"diamond","filled":true,"size":38,"color":"#000066","opacity":1}},
       "encoding":{
         "x":{"field":"t","type":"ordinal","bandPosition":0.5,
           "scale":{"type":"band","domain":[4000,8000,12000,16000,20000,24000,28000,32000,36000,40000,44000,48000,52000,56000,60000],"range":[59,417],"paddingInner":0,"paddingOuter":0},
           "axis":{"orient":"bottom","offset":-70,"grid":false,"tickBand":"extent","tickSize":4,"labelAngle":-45,"labelAlign":"right","labelBaseline":"middle","labelFontSize":9,"labelPadding":3,"labelOverlap":false,
             "title":"czas temps [h]","titleX":415,"titleY":56,"titleAlign":"right","titleBaseline":"middle","titleFontSize":11}},
         "y":{"field":"v","type":"quantitative","scale":{"domain":[20,110],"range":[231,64],"nice":false,"zero":false},
           "axis":{"orient":"left","offset":-59,"values":[20,30,40,50,60,70,80,90,100,110],"grid":true,"tickSize":4,"labelFontSize":11,"labelPadding":4,
             "title":["% świecących lamp","% flux lumineux"],"titleAngle":-90,"titleX":-49,"titleY":150,"titleAlign":"center","titleBaseline":"middle","titleFontSize":13,"titleLineHeight":15}}
       }},
      {"transform":[{"filter":{"field":"s","equal":"100"}}],
       "mark":{"type":"line","color":"#ff00ff","strokeWidth":1.5,"point":{"shape":"square","filled":true,"size":32,"color":"#ff00ff","opacity":1}},
       "encoding":{
         "x":{"field":"t","type":"ordinal","bandPosition":0.5,"axis":{"orient":"top","offset":0,"grid":true,"tickBand":"extent","domain":false,"ticks":false,"labels":false,
           "title":"time","titleX":22,"titleY":285,"titleAlign":"left","titleBaseline":"middle","titleColor":"#1c1c6e","titleFontSize":10}},
         "y":{"field":"v","type":"quantitative","axis":{"orient":"left","offset":0,"grid":false,"domain":false,"ticks":false,"labels":false,
           "title":"WLS -D Plus","titleAngle":0,"titleX":10,"titleY":18,"titleAlign":"left","titleBaseline":"middle","titleFontSize":10.5}}
       }},
      {"transform":[{"filter":{"field":"s","equal":"150; 250; 400"}}],
       "mark":{"type":"line","color":"#d9a35f","strokeWidth":1,"point":{"shape":"triangle-up","filled":true,"size":24,"fill":"#fff3d9","stroke":"#cf8a3c","strokeWidth":1,"opacity":1}},
       "encoding":{
         "x":{"field":"t","type":"ordinal","bandPosition":0.5,"axis":{"orient":"top","offset":0,"grid":true,"domain":false,"ticks":false,"labels":false,"title":null}},
         "y":{"field":"v","type":"quantitative","axis":{"orient":"left","offset":0,"grid":false,"domain":false,"ticks":false,"labels":false,
           "title":"LSF -współczynnik trwałości lamp","titleAngle":0,"titleX":104,"titleY":18,"titleAlign":"left","titleBaseline":"middle","titleFontSize":10.5}}
       }},
      {"transform":[{"filter":"false"}],
       "mark":{"type":"point","filled":true,"opacity":1},
       "encoding":{
         "fill":{"field":"s","type":"nominal","scale":{"domain":["70","100","150; 250; 400"],"range":["#000066","#ff00ff","#d9a35f"]},
           "legend":{"orient":"none","legendX":333,"legendY":4,"title":null,"direction":"vertical","fillColor":"#ffffff","strokeColor":"#9a9a9a","padding":3,"rowPadding":6,"symbolSize":144,"symbolStrokeWidth":0,"symbolOffset":6,"labelOffset":7,"labelFontSize":8.5}},
         "shape":{"field":"s","type":"nominal","scale":{"domain":["70","100","150; 250; 400"],"range":["M-2,-0.12H2V0.12H-2ZM0,-0.6L0.6,0L0,0.6L-0.6,0Z","M-2,-0.12H2V0.12H-2ZM-0.5,-0.5H0.5V0.5H-0.5Z","M-2,-0.08H2V0.08H-2ZM0,-0.45L0.45,0.35H-0.45Z"]},
           "legend":{"orient":"none","legendX":333,"legendY":4,"title":null,"direction":"vertical","fillColor":"#ffffff","strokeColor":"#9a9a9a","padding":3,"rowPadding":6,"symbolSize":144,"symbolStrokeWidth":0,"symbolOffset":6,"labelOffset":7,"labelFontSize":8.5}}
       }}
    ]}
 ],"spacing":0,"resolve":{"scale":{"fill":"independent","shape":"independent"},"legend":{"fill":"independent","shape":"independent"}}},
 {"width":10,"height":22,"data":{"values":[{}]},"mark":{"type":"rect","opacity":0}},
 {"hconcat":[
   {"width":2,"height":68,"data":{"values":[{}]},"mark":{"type":"rect","opacity":0}},
   {"width":181,"height":68,"data":{"name":"notes"},"transform":[{"filter":{"field":"b","equal":1}}],
    "encoding":{"y":{"field":"line","type":"ordinal","bandPosition":0.5,"scale":{"type":"band","domain":[0,1,2,3],"paddingInner":0,"paddingOuter":0},"axis":null},"text":{"field":"text"}},
    "layer":[
      {"transform":[{"filter":{"field":"part","equal":"l"}}],"mark":{"type":"text","align":"left","fontSize":11.5,"color":"#000000"},
       "encoding":{"x":{"datum":"c","type":"nominal","bandPosition":0,"scale":{"type":"band","paddingInner":0,"paddingOuter":0},"axis":null}}},
      {"transform":[{"filter":{"field":"part","equal":"v"}}],"mark":{"type":"text","align":"right","fontSize":11.5,"color":"#000000"},
       "encoding":{"x":{"datum":"c","type":"nominal","bandPosition":1,"axis":null}}}
    ]},
   {"width":39,"height":68,"data":{"values":[{}]},"mark":{"type":"rect","opacity":0}},
   {"width":181,"height":68,"data":{"name":"notes"},"transform":[{"filter":{"field":"b","equal":2}}],
    "encoding":{"y":{"field":"line","type":"ordinal","bandPosition":0.5,"scale":{"type":"band","domain":[0,1,2,3],"paddingInner":0,"paddingOuter":0},"axis":null},"text":{"field":"text"}},
    "layer":[
      {"transform":[{"filter":{"field":"part","equal":"l"}}],"mark":{"type":"text","align":"left","fontSize":11.5,"color":"#1c1c6e"},
       "encoding":{"x":{"datum":"c","type":"nominal","bandPosition":0,"scale":{"type":"band","paddingInner":0,"paddingOuter":0},"axis":null}}},
      {"transform":[{"filter":{"field":"part","equal":"v"}}],"mark":{"type":"text","align":"right","fontSize":11.5,"color":"#1c1c6e"},
       "encoding":{"x":{"datum":"c","type":"nominal","bandPosition":1,"axis":null}}}
    ]},
   {"width":68,"height":68,"data":{"values":[{}]},"mark":{"type":"rect","opacity":0}},
   {"width":204,"height":68,"data":{"name":"notes"},"transform":[{"filter":{"field":"b","equal":3}}],
    "encoding":{"y":{"field":"line","type":"ordinal","bandPosition":0.5,"scale":{"type":"band","domain":[0,1,2,3],"paddingInner":0,"paddingOuter":0},"axis":null},"text":{"field":"text"}},
    "layer":[
      {"transform":[{"filter":{"field":"part","equal":"l"}}],"mark":{"type":"text","align":"left","fontSize":11.5,"color":"#000000"},
       "encoding":{"x":{"datum":"c","type":"nominal","bandPosition":0,"scale":{"type":"band","paddingInner":0,"paddingOuter":0},"axis":null}}},
      {"transform":[{"filter":{"field":"part","equal":"v"}}],"mark":{"type":"text","align":"right","fontSize":11.5,"color":"#000000"},
       "encoding":{"x":{"datum":"c","type":"nominal","bandPosition":1,"axis":null}}}
    ]},
   {"width":22,"height":68,"data":{"values":[{}]},"mark":{"type":"rect","opacity":0}},
   {"width":204,"height":68,"data":{"name":"notes"},"transform":[{"filter":{"field":"b","equal":4}}],
    "encoding":{"y":{"field":"line","type":"ordinal","bandPosition":0.5,"scale":{"type":"band","domain":[0,1,2,3],"paddingInner":0,"paddingOuter":0},"axis":null},"text":{"field":"text"}},
    "layer":[
      {"transform":[{"filter":{"field":"part","equal":"l"}}],"mark":{"type":"text","align":"left","fontSize":11.5,"color":"#1c1c6e"},
       "encoding":{"x":{"datum":"c","type":"nominal","bandPosition":0,"scale":{"type":"band","paddingInner":0,"paddingOuter":0},"axis":null}}},
      {"transform":[{"filter":{"field":"part","equal":"v"}}],"mark":{"type":"text","align":"right","fontSize":11.5,"color":"#1c1c6e"},
       "encoding":{"x":{"datum":"c","type":"nominal","bandPosition":1,"axis":null}}}
    ]}
 ],"spacing":0},
 {"width":10,"height":39,"data":{"values":[{}]},"mark":{"type":"rect","opacity":0}},
 {"hconcat":[
   {"width":8,"height":342,"data":{"values":[{}]},"mark":{"type":"rect","opacity":0}},
   {"width":443,"height":342,"view":{"stroke":"#8c8c8c","strokeWidth":1},"data":{"name":"volt"},
    "resolve":{"axis":{"x":"independent","y":"independent"}},
    "layer":[
      {"transform":[{"filter":{"field":"s","equal":"Φ [lm]"}}],
       "mark":{"type":"line","color":"#000066","strokeWidth":1.5,"point":{"shape":"diamond","filled":true,"size":50,"color":"#000066","opacity":1}},
       "encoding":{
         "x":{"field":"t","type":"ordinal","bandPosition":0.5,
           "scale":{"type":"band","domain":[210,220,230,240],"range":[34,430],"paddingInner":0,"paddingOuter":0},
           "axis":{"orient":"bottom","offset":-29,"grid":false,"tickBand":"extent","tickSize":4,"labelAngle":0,"labelFontSize":9,"labelPadding":5,"labelOverlap":false,
             "title":"U [V]","titleX":406,"titleY":11,"titleAlign":"left","titleBaseline":"middle","titleFontSize":10}},
         "y":{"field":"v","type":"quantitative","scale":{"domain":[50,120],"range":[313,84],"nice":false,"zero":false},
           "axis":{"orient":"left","offset":-34,"values":[50,60,70,80,90,100,110,120],"grid":true,"gridColor":"#8c8c8c","tickSize":3,"labelFontSize":8,"labelPadding":3,
             "title":"%","titleAngle":-90,"titleX":-25,"titleY":198,"titleAlign":"center","titleBaseline":"middle","titleFontSize":10}}
       }},
      {"transform":[{"filter":{"field":"s","equal":"I [A]"}}],
       "mark":{"type":"line","color":"#ff00ff","strokeWidth":1.5,"point":{"shape":"square","filled":true,"size":45,"color":"#ff00ff","opacity":1}},
       "encoding":{
         "x":{"field":"t","type":"ordinal","bandPosition":0.5,"axis":{"orient":"top","offset":0,"grid":true,"gridColor":"#8c8c8c","tickBand":"extent","domain":false,"ticks":false,"labels":false,"title":null}},
         "y":{"field":"v","type":"quantitative","axis":{"orient":"left","offset":0,"grid":false,"domain":false,"ticks":false,"labels":false,
           "title":"WLS (70 -400) W","titleAngle":0,"titleX":6,"titleY":15,"titleAlign":"left","titleBaseline":"middle","titleFontSize":11}}
       }},
      {"transform":[{"filter":{"field":"s","equal":"UL [V]"}}],
       "mark":{"type":"line","color":"#f07820","strokeWidth":1.5,"point":{"shape":"triangle-up","filled":true,"size":55,"color":"#ffff00","opacity":1}},
       "encoding":{
         "x":{"field":"t","type":"ordinal","bandPosition":0.5,"axis":null},
         "y":{"field":"v","type":"quantitative","axis":{"orient":"left","offset":0,"grid":false,"domain":false,"ticks":false,"labels":false,
           "title":"Zależność parametrów od napięcia","titleAngle":0,"titleX":122,"titleY":15,"titleAlign":"left","titleBaseline":"middle","titleFontSize":11}}
       }},
      {"transform":[{"filter":{"field":"s","equal":"P [W]"}}],
       "mark":{"type":"line","color":"#33cccc","strokeWidth":1.5,"point":{"shape":"M-1,-1L1,1M1,-1L-1,1","filled":false,"size":36,"stroke":"#33cccc","strokeWidth":1.5,"opacity":1}},
       "encoding":{
         "x":{"field":"t","type":"ordinal","bandPosition":0.5,"axis":null},
         "y":{"field":"v","type":"quantitative","axis":{"orient":"left","offset":0,"grid":false,"domain":false,"ticks":false,"labels":false,
           "title":"Dependance of photoelectric parameters operating voltage","titleAngle":0,"titleX":6,"titleY":38,"titleAlign":"left","titleBaseline":"middle","titleFontSize":11}}
       }},
      {"transform":[{"filter":"false"}],
       "mark":{"type":"point","filled":true,"opacity":1},
       "encoding":{
         "fill":{"field":"s","type":"nominal","scale":{"domain":["Φ [lm]","I [A]","UL [V]","P [W]"],"range":["#000066","#ff00ff","#f8b400","#33cccc"]},
           "legend":{"orient":"none","legendX":362,"legendY":10,"title":null,"direction":"vertical","fillColor":"#ffffff","strokeColor":"#9a9a9a","padding":4,"rowPadding":5,"symbolSize":144,"symbolStrokeWidth":0,"symbolOffset":6,"labelOffset":15,"labelFontSize":9}},
         "shape":{"field":"s","type":"nominal","scale":{"domain":["Φ [lm]","I [A]","UL [V]","P [W]"],"range":["M-2,-0.12H2V0.12H-2ZM0,-0.6L0.6,0L0,0.6L-0.6,0Z","M-2,-0.12H2V0.12H-2ZM-0.5,-0.5H0.5V0.5H-0.5Z","M-2,-0.12H2V0.12H-2ZM0,-0.6L0.6,0.5H-0.6Z","M-2,-0.12H2V0.12H-2ZM-0.6,-0.48L-0.48,-0.6L0.6,0.48L0.48,0.6ZM0.48,-0.6L0.6,-0.48L-0.48,0.6L-0.6,0.48Z"]},
           "legend":{"orient":"none","legendX":362,"legendY":10,"title":null,"direction":"vertical","fillColor":"#ffffff","strokeColor":"#9a9a9a","padding":4,"rowPadding":5,"symbolSize":144,"symbolStrokeWidth":0,"symbolOffset":6,"labelOffset":15,"labelFontSize":9}}
       }}
    ]},
   {"width":28,"height":342,"data":{"values":[{}]},"mark":{"type":"rect","opacity":0}},
   {"width":442,"height":342,"view":{"stroke":"#8c8c8c","strokeWidth":1},"data":{"name":"stab"},
    "resolve":{"axis":{"x":"independent","y":"independent"}},
    "layer":[
      {"transform":[{"filter":{"field":"s","equal":"Φ [lm]"}}],
       "mark":{"type":"line","color":"#000066","strokeWidth":1.5,"point":{"shape":"diamond","filled":true,"size":50,"color":"#000066","opacity":1}},
       "encoding":{
         "x":{"field":"t","type":"ordinal","bandPosition":0.5,
           "scale":{"type":"band","domain":[0,1,2,3,4,5,6],"range":[41,434],"paddingInner":0,"paddingOuter":0},
           "axis":{"orient":"bottom","offset":-52,"grid":false,"tickBand":"extent","tickSize":5,"labelAngle":0,"labelFontSize":13,"labelPadding":7,"labelOverlap":false,
             "title":"czas time [min.]","titleX":434,"titleY":37,"titleAlign":"right","titleBaseline":"middle","titleFontSize":13}},
         "y":{"field":"v","type":"quantitative","scale":{"domain":[0,140],"range":[290,75],"nice":false,"zero":false},
           "axis":{"orient":"left","offset":-41,"values":[0,20,40,60,80,100,120,140],"grid":true,"gridColor":"#8c8c8c","tickSize":5,"labelFontSize":13,"labelPadding":5,
             "title":"%","titleAngle":-90,"titleX":-30,"titleY":185,"titleAlign":"center","titleBaseline":"middle","titleFontSize":13}}
       }},
      {"transform":[{"filter":{"field":"s","equal":"I [A]"}}],
       "mark":{"type":"line","color":"#ff00ff","strokeWidth":1.5,"point":{"shape":"square","filled":true,"size":45,"color":"#ff00ff","opacity":1}},
       "encoding":{
         "x":{"field":"t","type":"ordinal","bandPosition":0.5,"axis":{"orient":"top","offset":0,"grid":true,"gridColor":"#8c8c8c","tickBand":"extent","domain":false,"ticks":false,"labels":false,"title":null}},
         "y":{"field":"v","type":"quantitative","axis":{"orient":"left","offset":0,"grid":false,"domain":false,"ticks":false,"labels":false,
           "title":"WLS (70 -400) W","titleAngle":0,"titleX":18,"titleY":20,"titleAlign":"left","titleBaseline":"middle","titleFontSize":11}}
       }},
      {"transform":[{"filter":{"field":"s","equal":"UL [V]"}}],
       "mark":{"type":"line","color":"#f07820","strokeWidth":1.5,"point":{"shape":"triangle-up","filled":true,"size":55,"color":"#ffff00","opacity":1}},
       "encoding":{
         "x":{"field":"t","type":"ordinal","bandPosition":0.5,"axis":null},
         "y":{"field":"v","type":"quantitative","axis":{"orient":"left","offset":0,"grid":false,"domain":false,"ticks":false,"labels":false,
           "title":"Stabilizacja parametrów w czasie","titleAngle":0,"titleX":134,"titleY":20,"titleAlign":"left","titleBaseline":"middle","titleFontSize":11}}
       }},
      {"transform":[{"filter":{"field":"s","equal":"P [W]"}}],
       "mark":{"type":"line","color":"#33cccc","strokeWidth":1.5,"point":{"shape":"M-1,-1L1,1M1,-1L-1,1","filled":false,"size":36,"stroke":"#33cccc","strokeWidth":1.5,"opacity":1}},
       "encoding":{
         "x":{"field":"t","type":"ordinal","bandPosition":0.5,"axis":null},
         "y":{"field":"v","type":"quantitative","axis":{"orient":"left","offset":0,"grid":false,"domain":false,"ticks":false,"labels":false,
           "title":"Stabilzation of photoelectric parameters in time","titleAngle":0,"titleX":46,"titleY":43,"titleAlign":"left","titleBaseline":"middle","titleFontSize":11}}
       }},
      {"transform":[{"filter":"false"}],
       "mark":{"type":"point","filled":true,"opacity":1},
       "encoding":{
         "fill":{"field":"s","type":"nominal","scale":{"domain":["Φ [lm]","I [A]","UL [V]","P [W]"],"range":["#000066","#ff00ff","#f8b400","#33cccc"]},
           "legend":{"orient":"none","legendX":374,"legendY":0,"title":null,"direction":"vertical","fillColor":"#ffffff","strokeColor":"#9a9a9a","padding":4,"rowPadding":5,"symbolSize":144,"symbolStrokeWidth":0,"symbolOffset":6,"labelOffset":15,"labelFontSize":9.5}},
         "shape":{"field":"s","type":"nominal","scale":{"domain":["Φ [lm]","I [A]","UL [V]","P [W]"],"range":["M-2,-0.12H2V0.12H-2ZM0,-0.6L0.6,0L0,0.6L-0.6,0Z","M-2,-0.12H2V0.12H-2ZM-0.5,-0.5H0.5V0.5H-0.5Z","M-2,-0.12H2V0.12H-2ZM0,-0.6L0.6,0.5H-0.6Z","M-2,-0.12H2V0.12H-2ZM-0.6,-0.48L-0.48,-0.6L0.6,0.48L0.48,0.6ZM0.48,-0.6L0.6,-0.48L-0.48,0.6L-0.6,0.48Z"]},
           "legend":{"orient":"none","legendX":374,"legendY":0,"title":null,"direction":"vertical","fillColor":"#ffffff","strokeColor":"#9a9a9a","padding":4,"rowPadding":5,"symbolSize":144,"symbolStrokeWidth":0,"symbolOffset":6,"labelOffset":15,"labelFontSize":9.5}}
       }}
    ]}
 ],"spacing":0,"resolve":{"scale":{"fill":"independent","shape":"independent"},"legend":{"fill":"independent","shape":"independent"}}},
 {"width":10,"height":170,"data":{"values":[{}]},"mark":{"type":"rect","opacity":0}},
 {"hconcat":[
   {"vconcat":[
     {"width":111,"height":14,"data":{"values":[{}]},"mark":{"type":"rect","opacity":0}},
     {"width":111,"height":6,"data":{"values":[{}]},"mark":{"type":"rect","color":"#f4c300"}},
     {"width":111,"height":7,"data":{"values":[{}]},"mark":{"type":"rect","color":"#1d3a8f"}}
   ],"spacing":0},
   {"vconcat":[
     {"width":55,"height":65,"view":{"fill":"#1d3a8f","stroke":"#f4c300","strokeWidth":2},"data":{"name":"logo"},
      "transform":[{"filter":{"field":"part","oneOf":["sym","name"]}}],
      "encoding":{"y":{"field":"part","type":"nominal","scale":{"type":"point","domain":["sym","name"],"range":[25,56],"padding":0},"axis":null},"text":{"field":"text"}},
      "layer":[
        {"transform":[{"filter":{"field":"part","equal":"sym"}}],"mark":{"type":"text","font":"DejaVu Sans","fontSize":40,"fontWeight":"bold","color":"#f4c300"}},
        {"transform":[{"filter":{"field":"part","equal":"name"}}],"mark":{"type":"text","fontSize":11,"fontWeight":"bold","color":"#f4c300"}}
      ]},
     {"width":55,"height":14,"data":{"name":"logo"},"transform":[{"filter":{"field":"part","equal":"city"}}],
      "mark":{"type":"text","fontSize":9,"fontWeight":"bold","color":"#1d3a8f"},"encoding":{"text":{"field":"text"}}}
   ],"spacing":0},
   {"vconcat":[
     {"width":794,"height":14,"data":{"values":[{}]},"mark":{"type":"rect","opacity":0}},
     {"width":794,"height":6,"data":{"values":[{}]},"mark":{"type":"rect","color":"#f4c300"}},
     {"width":794,"height":7,"data":{"values":[{}]},"mark":{"type":"rect","color":"#1d3a8f"}},
     {"width":794,"height":6,"data":{"values":[{}]},"mark":{"type":"rect","opacity":0}},
     {"hconcat":[
       {"width":69,"height":40,"data":{"values":[{}]},"mark":{"type":"rect","opacity":0}},
       {"width":725,"height":40,"data":{"name":"foot"},
        "encoding":{"y":{"field":"line","type":"ordinal","bandPosition":0.5,"scale":{"type":"band","domain":[1,2],"paddingInner":0,"paddingOuter":0},"axis":null},"text":{"field":"text"}},
        "layer":[
          {"transform":[{"filter":{"field":"side","equal":"l"}}],"mark":{"type":"text","align":"left","fontSize":17,"color":"#222222"},
           "encoding":{"x":{"datum":"c","type":"nominal","bandPosition":0,"scale":{"type":"band","paddingInner":0,"paddingOuter":0},"axis":null}}},
          {"transform":[{"filter":{"field":"side","equal":"r"}}],"mark":{"type":"text","align":"right","dx":-3,"fontSize":13,"color":"#222222"},
           "encoding":{"x":{"datum":"c","type":"nominal","bandPosition":1,"axis":null}}}
        ]}
     ],"spacing":0}
   ],"spacing":0}
 ],"spacing":0}
]
}
